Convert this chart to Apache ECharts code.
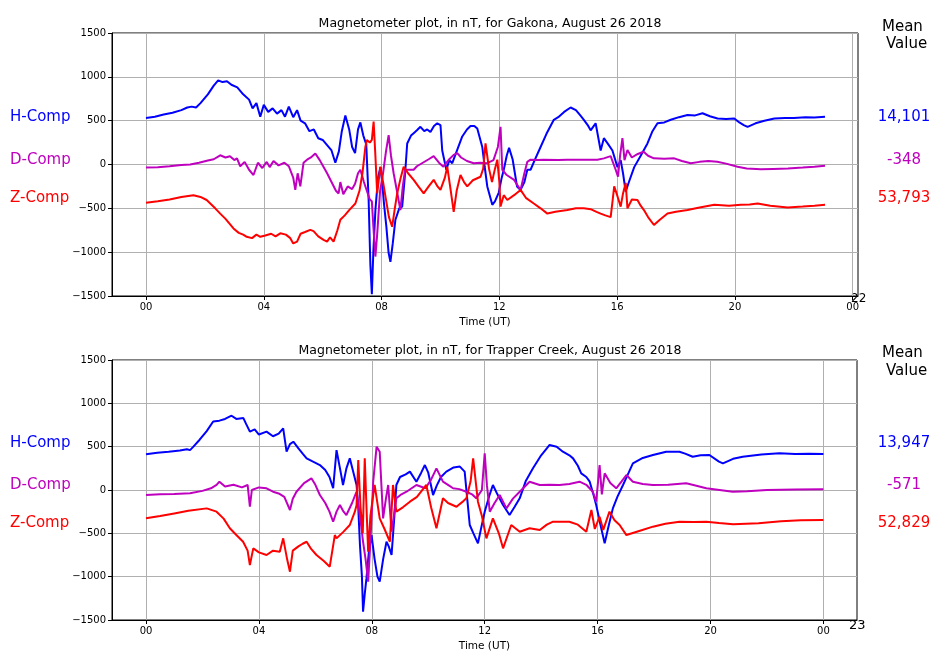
<!DOCTYPE html>
<html>
<head>
<meta charset="utf-8">
<script src="https://cdn.jsdelivr.net/npm/echarts@6.0.0/dist/echarts.min.js"></script>
<style>
  html, body { margin: 0; padding: 0; background: #fff; }
  #chart { width: 930px; height: 654px; }
</style>
</head>
<body>
<div id="chart"></div>
<script>
// Magnetometer plots, Gakona (top) and Trapper Creek (bottom), 26 Aug 2018
// values are [hour UT, nT deviation from the mean]

const xTicks = [0, 4, 8, 12, 16, 20, 24];
const components = ['H-Comp', 'D-Comp', 'Z-Comp'];
const compColors = ['#0000ff', '#bf00bf', '#ff0000'];
const gakonaMeans = ['14,101', '-348', '53,793'];
const trapperMeans = ['13,947', '-571', '52,829'];

const gakonaH = [[0,530],[0.3,545],[0.6,570],[0.9,590],[1.2,620],[1.4,650],[1.55,660],[1.7,650],[1.85,700],[2.1,800],[2.3,900],[2.45,960],[2.6,940],[2.75,950],[2.9,910],[3.1,880],[3.3,800],[3.5,740],[3.62,640],[3.75,700],[3.88,545],[4.0,680],[4.15,600],[4.3,640],[4.45,580],[4.6,620],[4.72,545],[4.85,660],[5.0,540],[5.13,620],[5.25,500],[5.4,470],[5.55,380],[5.7,400],[5.85,300],[6.0,280],[6.15,220],[6.3,160],[6.43,20],[6.55,150],[6.65,380],[6.77,560],[6.9,400],[7.0,200],[7.1,130],[7.2,400],[7.28,480],[7.38,330],[7.48,230],[7.56,-400],[7.62,-1150],[7.67,-1480],[7.72,-1000],[7.79,-520],[7.88,-150],[7.96,-30],[8.02,-200],[8.08,-440],[8.16,-700],[8.24,-1010],[8.3,-1110],[8.38,-900],[8.47,-630],[8.6,-500],[8.7,-480],[8.8,-100],[8.87,240],[9.0,330],[9.1,360],[9.2,390],[9.32,430],[9.45,380],[9.55,400],[9.66,370],[9.78,440],[9.89,470],[10.0,450],[10.06,160],[10.2,-60],[10.3,50],[10.4,15],[10.55,150],[10.74,320],[10.9,400],[11.02,440],[11.15,440],[11.25,410],[11.42,200],[11.5,-20],[11.59,-250],[11.76,-460],[11.85,-420],[11.98,-320],[12.08,-150],[12.15,-60],[12.25,100],[12.33,190],[12.45,60],[12.6,-250],[12.72,-290],[12.85,-200],[12.95,-60],[13.06,-60],[13.2,50],[13.4,200],[13.6,350],[13.85,510],[14.0,540],[14.2,600],[14.42,650],[14.6,620],[14.75,560],[14.87,510],[15.0,450],[15.1,390],[15.27,470],[15.44,160],[15.55,300],[15.7,230],[15.84,160],[16.01,-30],[16.12,50],[16.2,-100],[16.29,-310],[16.4,-200],[16.58,-30],[16.8,100],[17.03,240],[17.2,380],[17.37,470],[17.6,480],[17.82,510],[18.1,540],[18.39,565],[18.65,560],[18.9,585],[19.15,550],[19.41,525],[19.7,520],[19.98,525],[20.15,480],[20.3,450],[20.43,430],[20.7,470],[21.0,500],[21.34,525],[21.7,530],[22.0,530],[22.4,540],[22.7,535],[23.06,545]];

const gakonaD = [[0,-35],[0.4,-30],[0.8,-20],[1.2,-5],[1.5,0],[1.8,20],[2.1,45],[2.3,60],[2.52,105],[2.7,80],[2.85,95],[3.0,50],[3.09,70],[3.2,-20],[3.35,30],[3.5,-60],[3.65,-120],[3.8,20],[3.95,-40],[4.1,30],[4.2,-30],[4.33,40],[4.5,-10],[4.7,20],[4.85,-20],[5.0,-150],[5.07,-290],[5.15,-100],[5.24,-250],[5.35,20],[5.47,55],[5.6,80],[5.75,125],[5.9,50],[6.05,-40],[6.15,-100],[6.3,-200],[6.45,-300],[6.54,-330],[6.6,-200],[6.7,-340],[6.85,-250],[7.0,-280],[7.1,-220],[7.2,-100],[7.28,-60],[7.4,-200],[7.5,-300],[7.6,-400],[7.67,-420],[7.72,-700],[7.79,-1050],[7.85,-800],[7.95,-300],[8.05,-100],[8.15,150],[8.24,336],[8.32,100],[8.41,-100],[8.52,-300],[8.64,-520],[8.72,-250],[8.8,-60],[9.0,-60],[9.09,-60],[9.2,-20],[9.4,20],[9.6,60],[9.77,95],[9.95,20],[10.1,-25],[10.3,60],[10.45,110],[10.57,130],[10.7,80],[10.9,40],[11.13,15],[11.35,20],[11.59,15],[11.8,50],[11.95,200],[12.04,430],[12.1,-60],[12.25,-120],[12.5,-175],[12.6,-230],[12.72,-290],[12.85,-100],[12.95,30],[13.06,55],[13.3,50],[13.5,55],[14.0,50],[14.3,55],[14.8,55],[15.33,55],[15.55,70],[15.78,95],[15.95,-60],[16.03,-140],[16.1,100],[16.18,300],[16.25,50],[16.35,165],[16.5,80],[16.7,120],[16.9,145],[17.05,100],[17.25,70],[17.6,65],[17.94,70],[18.2,40],[18.5,15],[18.8,30],[19.1,40],[19.4,32],[19.7,10],[20.09,-25],[20.4,-45],[20.88,-55],[21.3,-50],[21.8,-45],[22.3,-35],[22.7,-25],[23.06,-15]];

const gakonaZ = [[0,-436],[0.4,-420],[0.8,-400],[1.2,-370],[1.61,-350],[1.85,-370],[2.06,-405],[2.2,-450],[2.35,-500],[2.52,-560],[2.7,-620],[2.85,-680],[2.97,-730],[3.15,-780],[3.3,-800],[3.42,-825],[3.6,-840],[3.75,-800],[3.88,-825],[4.05,-810],[4.25,-790],[4.4,-820],[4.56,-785],[4.75,-800],[4.9,-840],[5.0,-900],[5.13,-880],[5.25,-790],[5.4,-770],[5.58,-745],[5.69,-760],[5.85,-820],[6.03,-860],[6.15,-880],[6.25,-830],[6.37,-880],[6.5,-750],[6.6,-630],[6.75,-580],[6.9,-520],[7.11,-445],[7.25,-300],[7.35,-100],[7.45,200],[7.5,280],[7.6,250],[7.67,280],[7.73,490],[7.79,100],[7.85,-330],[7.96,-25],[8.05,-200],[8.15,-400],[8.25,-600],[8.36,-710],[8.45,-500],[8.53,-330],[8.65,-150],[8.75,-25],[8.9,-100],[9.09,-175],[9.25,-250],[9.43,-330],[9.6,-250],[9.77,-175],[9.9,-250],[10.0,-290],[10.15,-150],[10.23,-25],[10.35,-300],[10.45,-540],[10.55,-300],[10.68,-120],[10.8,-200],[10.91,-250],[11.1,-180],[11.36,-140],[11.45,-50],[11.53,240],[11.65,-50],[11.75,-200],[11.85,-50],[11.93,55],[12.0,-200],[12.04,-480],[12.15,-350],[12.27,-405],[12.5,-350],[12.72,-290],[12.9,-380],[13.17,-445],[13.4,-500],[13.63,-560],[13.9,-540],[14.31,-520],[14.6,-500],[14.87,-500],[15.1,-510],[15.3,-540],[15.44,-560],[15.6,-580],[15.78,-600],[15.85,-400],[15.9,-250],[16.0,-350],[16.12,-480],[16.2,-330],[16.29,-210],[16.35,-500],[16.5,-400],[16.69,-405],[16.8,-470],[16.91,-520],[17.05,-600],[17.25,-690],[17.45,-630],[17.71,-560],[18.0,-540],[18.39,-520],[18.8,-490],[19.3,-460],[19.8,-470],[20.2,-460],[20.5,-455],[20.77,-445],[21.2,-470],[21.79,-490],[22.3,-480],[22.7,-470],[23.06,-460]];

const trapperH = [[0,412],[0.4,430],[0.8,440],[1.2,455],[1.45,470],[1.56,460],[1.68,500],[1.9,580],[2.15,680],[2.38,790],[2.6,800],[2.8,820],[3.03,857],[3.2,820],[3.45,830],[3.55,760],[3.68,673],[3.85,700],[4.0,640],[4.27,673],[4.5,620],[4.7,650],[4.86,712],[4.98,442],[5.1,530],[5.22,557],[5.4,480],[5.55,420],[5.69,365],[5.9,330],[6.16,288],[6.35,230],[6.5,150],[6.63,20],[6.75,460],[6.9,200],[6.98,58],[7.1,250],[7.22,365],[7.35,200],[7.46,58],[7.52,-200],[7.58,-635],[7.65,-1000],[7.69,-1405],[7.75,-1200],[7.81,-1020],[7.9,-700],[7.99,-520],[8.1,-800],[8.2,-1000],[8.28,-1057],[8.4,-800],[8.52,-597],[8.6,-650],[8.7,-750],[8.8,-300],[8.87,58],[9.0,150],[9.2,180],[9.35,212],[9.58,96],[9.75,200],[9.88,288],[10.0,200],[10.17,-58],[10.3,50],[10.45,150],[10.64,212],[10.9,260],[11.12,270],[11.29,212],[11.38,-100],[11.47,-404],[11.6,-500],[11.76,-615],[11.9,-400],[12.0,-250],[12.15,-80],[12.29,58],[12.45,-50],[12.65,-173],[12.88,-289],[13.05,-200],[13.24,-96],[13.45,100],[13.71,250],[14.0,400],[14.3,520],[14.55,500],[14.77,442],[15.0,400],[15.13,365],[15.3,280],[15.42,192],[15.6,150],[15.72,96],[15.85,-50],[15.95,-173],[16.1,-400],[16.25,-615],[16.4,-400],[16.54,-212],[16.7,-80],[16.9,58],[17.1,200],[17.25,308],[17.6,370],[17.96,404],[18.43,442],[18.9,442],[19.1,420],[19.37,384],[19.65,400],[19.96,404],[20.3,327],[20.44,308],[20.8,360],[21.14,384],[21.8,410],[22.44,423],[23.0,415],[23.5,418],[24.0,415]];

const trapperD = [[0,-58],[0.5,-50],[1.0,-45],[1.56,-38],[2.0,-10],[2.3,20],[2.5,58],[2.6,96],[2.8,40],[3.1,60],[3.4,30],[3.6,58],[3.68,-193],[3.75,0],[4.0,30],[4.27,20],[4.5,-20],[4.7,-40],[4.9,-80],[5.1,-231],[5.2,-100],[5.33,-20],[5.6,80],[5.86,135],[6.0,60],[6.16,-58],[6.35,-150],[6.5,-250],[6.63,-366],[6.75,-250],[6.87,-173],[7.0,-250],[7.1,-289],[7.3,-150],[7.46,-20],[7.58,-300],[7.69,-597],[7.78,-800],[7.87,-1057],[7.95,-600],[8.05,100],[8.17,500],[8.28,442],[8.4,-327],[8.5,-100],[8.58,58],[8.7,-481],[8.87,-96],[9.05,-50],[9.23,-20],[9.58,58],[9.9,20],[10.1,120],[10.29,250],[10.52,96],[10.7,60],[10.88,20],[11.1,10],[11.35,-20],[11.55,-50],[11.7,-96],[11.9,0],[12.0,423],[12.08,50],[12.18,-250],[12.35,-150],[12.53,-58],[12.77,-212],[13.0,-100],[13.24,-20],[13.59,96],[13.95,58],[14.3,60],[14.65,58],[15.0,70],[15.36,96],[15.6,60],[15.83,-20],[15.95,-135],[16.07,288],[16.15,-50],[16.25,192],[16.45,80],[16.66,20],[16.85,100],[17.02,173],[17.25,96],[17.6,70],[17.96,58],[18.5,60],[19.14,77],[19.5,50],[19.85,20],[20.32,0],[20.79,-20],[21.3,-15],[22.0,0],[23.0,5],[24.0,8]];

const trapperZ = [[0,-327],[0.5,-300],[1.0,-270],[1.5,-240],[2.15,-212],[2.5,-250],[2.75,-330],[2.97,-442],[3.2,-520],[3.44,-597],[3.6,-700],[3.68,-866],[3.8,-673],[4.0,-720],[4.27,-750],[4.5,-700],[4.74,-712],[4.86,-558],[5.0,-800],[5.1,-943],[5.2,-700],[5.4,-650],[5.55,-620],[5.69,-597],[5.85,-680],[6.04,-750],[6.3,-820],[6.51,-885],[6.69,-520],[6.75,-558],[7.0,-480],[7.22,-404],[7.4,-250],[7.46,-173],[7.52,346],[7.6,-200],[7.68,-500],[7.75,365],[7.8,-100],[7.87,-712],[7.95,-300],[8.1,58],[8.28,-327],[8.45,-450],[8.64,-597],[8.75,58],[8.87,-250],[9.1,-200],[9.35,-135],[9.6,-80],[9.93,58],[10.1,-200],[10.29,-442],[10.52,-96],[10.7,-150],[11.0,-193],[11.2,-140],[11.35,-96],[11.5,100],[11.59,365],[11.76,-135],[11.9,-300],[12.06,-558],[12.29,-327],[12.5,-500],[12.65,-673],[12.94,-404],[13.24,-481],[13.59,-442],[13.95,-462],[14.2,-400],[14.42,-366],[15.0,-366],[15.3,-400],[15.6,-481],[15.78,-231],[15.9,-450],[16.07,-308],[16.2,-460],[16.42,-250],[16.6,-350],[16.78,-404],[17.02,-520],[17.5,-470],[17.96,-423],[18.4,-390],[18.9,-366],[19.4,-370],[19.85,-366],[20.3,-380],[20.8,-395],[21.7,-385],[22.5,-360],[23.2,-350],[24.0,-346]];

const FONT = 'DejaVu Sans';
const chart = echarts.init(document.getElementById('chart'));

function pad(v) {
  const h = Math.round(v) % 24;
  return (h < 10 ? '0' : '') + h;
}

function makeX(idx, min, max) {
  return {
    type: 'value', gridIndex: idx, min: min, max: max,
    name: 'Time (UT)', nameLocation: 'middle', nameGap: 21,
    nameTextStyle: { fontFamily: FONT, fontSize: 10.5, color: '#000' },
    axisLine: { show: true, onZero: false, lineStyle: { color: '#000', width: 1 } },
    axisTick: { show: true, customValues: xTicks, length: 4, lineStyle: { color: '#000' } },
    axisLabel: { customValues: xTicks, formatter: pad, fontFamily: FONT, fontSize: 10, color: '#000', margin: 6 },
    splitLine: { show: true, lineStyle: { color: '#b0b0b0', width: 1 } }
  };
}

function makeY(idx) {
  return {
    type: 'value', gridIndex: idx, min: -1500, max: 1500, interval: 500,
    axisLine: { show: true, onZero: false, lineStyle: { color: '#000', width: 1 } },
    axisTick: { show: true, length: 4, lineStyle: { color: '#000' } },
    axisLabel: {
      formatter: v => String(v).replace('-', '\u2212'),
      fontFamily: FONT, fontSize: 10, color: '#000', margin: 6
    },
    splitLine: { show: true, lineStyle: { color: '#b0b0b0', width: 1 } }
  };
}

function line(data, idx, c) {
  return {
    type: 'line', data: data, xAxisIndex: idx, yAxisIndex: idx,
    symbol: 'none', lineStyle: { color: compColors[c], width: 2 }, z: 2 + c
  };
}

function txt(x, y, s, color, size, align) {
  return {
    type: 'text', x: x, y: y,
    style: { text: s, fill: color, font: size + 'px "' + FONT + '"',
             textAlign: align || 'left', textVerticalAlign: 'middle',
             align: align || 'left', verticalAlign: 'middle' }
  };
}

// side labels for both panels
const graphics = [];
const rowsTop = [117, 160, 198];
const rowsBot = [443, 485, 523];
components.forEach((c, i) => {
  graphics.push(txt(10, rowsTop[i], c, compColors[i], 15));
  graphics.push(txt(10, rowsBot[i], c, compColors[i], 15));
  graphics.push(txt(904, rowsTop[i], gakonaMeans[i], compColors[i], 15, 'center'));
  graphics.push(txt(904, rowsBot[i], trapperMeans[i], compColors[i], 15, 'center'));
});
graphics.push(txt(882, 27, 'Mean', '#000', 15));
graphics.push(txt(886, 44, 'Value', '#000', 15));
graphics.push(txt(882, 353, 'Mean', '#000', 15));
graphics.push(txt(886, 371, 'Value', '#000', 15));
graphics.push(txt(851, 299, '22', '#000', 12));
graphics.push(txt(849, 626, '23', '#000', 13));

chart.setOption({
  animation: false,
  backgroundColor: '#fff',
  textStyle: { fontFamily: FONT },
  title: [
    { text: 'Magnetometer plot, in nT, for Gakona, August 26 2018', left: 485, top: 12, textAlign: 'center',
      textStyle: { fontFamily: FONT, fontSize: 12.5, fontWeight: 'normal', color: '#000' } },
    { text: 'Magnetometer plot, in nT, for Trapper Creek, August 26 2018', left: 485, top: 339, textAlign: 'center',
      textStyle: { fontFamily: FONT, fontSize: 12.5, fontWeight: 'normal', color: '#000' } }
  ],
  grid: [
    { left: 112, top: 33, width: 746, height: 263, show: true, borderColor: '#000', borderWidth: 1, backgroundColor: 'transparent' },
    { left: 112, top: 360, width: 745, height: 260, show: true, borderColor: '#000', borderWidth: 1, backgroundColor: 'transparent' }
  ],
  xAxis: [makeX(0, -1.155, 24.18), makeX(1, -1.205, 25.19)],
  yAxis: [makeY(0), makeY(1)],
  series: [
    line(gakonaH, 0, 0), line(gakonaD, 0, 1), line(gakonaZ, 0, 2),
    line(trapperH, 1, 0), line(trapperD, 1, 1), line(trapperZ, 1, 2)
  ],
  graphic: graphics
});
</script>
</body>
</html>
